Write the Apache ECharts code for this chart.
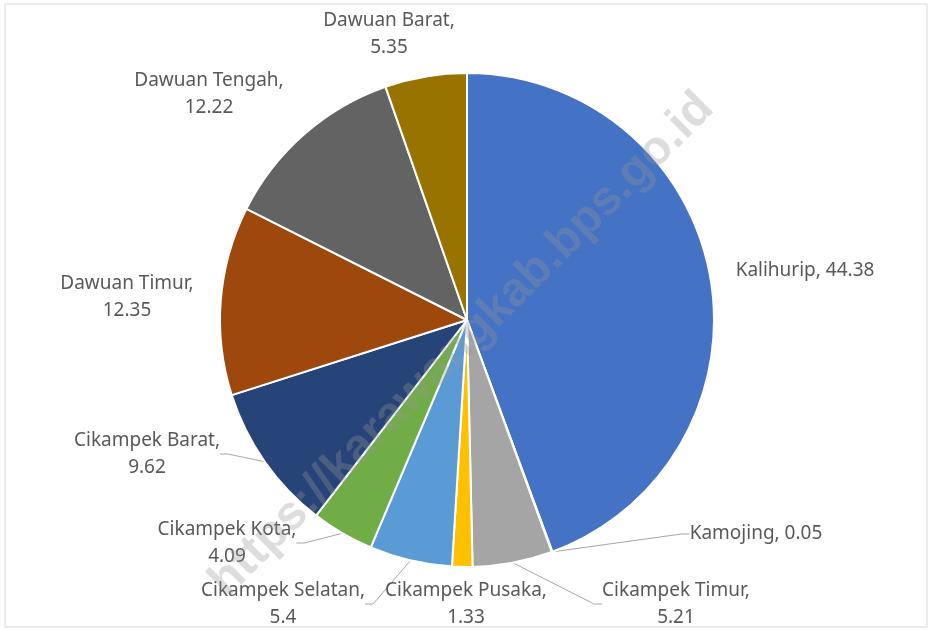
<!DOCTYPE html>
<html>
<head>
<meta charset="utf-8">
<script src="https://cdn.jsdelivr.net/npm/echarts@6/dist/echarts.min.js"></script>
<style>
html,body{margin:0;padding:0;background:#fff;}
#chart{width:934px;height:630px;}
</style>
</head>
<body>
<div id="chart"></div>
<script>
var categories = ['Kalihurip', 'Kamojing', 'Cikampek Timur', 'Cikampek Pusaka', 'Cikampek Selatan', 'Cikampek Kota', 'Cikampek Barat', 'Dawuan Timur', 'Dawuan Tengah', 'Dawuan Barat'];
var values = [44.38, 0.05, 5.21, 1.33, 5.4, 4.09, 9.62, 12.35, 12.22, 5.35];
var colors = ['#4472C4', '#ED7D31', '#A5A5A5', '#FFC000', '#5B9BD5', '#70AD47', '#264478', '#9E480E', '#636363', '#997300'];
var watermark = 'https://karawangkab.bps.go.id';

// label placement (centre of label box), chosen to follow the reference layout
var labelPlace = {
  'Kalihurip':        {x: 805, y: 271, oneLine: true,  line: false},
  'Kamojing':         {x: 756, y: 534, oneLine: true,  line: true},
  'Cikampek Timur':   {x: 676, y: 604, oneLine: false, line: true},
  'Cikampek Pusaka':  {x: 466, y: 604, oneLine: false, line: false},
  'Cikampek Selatan': {x: 283, y: 604, oneLine: false, line: true},
  'Cikampek Kota':    {x: 227, y: 543, oneLine: false, line: true},
  'Cikampek Barat':   {x: 147, y: 454, oneLine: false, line: true},
  'Dawuan Timur':     {x: 127, y: 297, oneLine: false, line: false},
  'Dawuan Tengah':    {x: 209, y: 94,  oneLine: false, line: false},
  'Dawuan Barat':     {x: 389, y: 34,  oneLine: false, line: false}
};

var data = categories.map(function (name, i) {
  var p = labelPlace[name];
  return {
    name: name,
    value: values[i],
    itemStyle: {color: colors[i]},
    label: {formatter: p.oneLine ? '{b}, {c}' : '{b},\n{c}'},
    labelLine: {show: p.line}
  };
});

var chart = echarts.init(document.getElementById('chart'));
chart.setOption({
  animation: false,
  backgroundColor: '#ffffff',
  graphic: [
    {
      type: 'rect', z: -1,
      shape: {x: 5, y: 4, width: 922, height: 623},
      style: {fill: '#ffffff', stroke: '#d9d9d9', lineWidth: 1}
    },
    {
      type: 'text', z: 100,
      x: 462, y: 345, rotation: Math.PI / 4,
      style: {
        text: watermark,
        font: 'bold 48px "Liberation Sans", Arial, sans-serif',
        fill: 'rgba(150,150,150,0.32)',
        align: 'center', verticalAlign: 'middle'
      }
    }
  ],
  series: [{
    type: 'pie',
    center: [467, 320],
    radius: [0, 247],
    startAngle: 90,
    clockwise: true,
    avoidLabelOverlap: false,
    itemStyle: {borderColor: '#ffffff', borderWidth: 2},
    label: {
      show: true,
      position: 'outside',
      color: '#595959',
      fontFamily: 'Noto Sans',
      fontSize: 19,
      lineHeight: 27,
      align: 'center'
    },
    labelLine: {
      show: true,
      length: 10,
      length2: 8,
      lineStyle: {color: '#a6a6a6', width: 1}
    },
    labelLayout: function (params) {
      var p = labelPlace[categories[params.dataIndex]];
      return {
        x: p.x,
        y: p.y,
        align: 'center',
        verticalAlign: 'middle'
      };
    },
    emphasis: {disabled: true},
    data: data
  }]
});
</script>
</body>
</html>
